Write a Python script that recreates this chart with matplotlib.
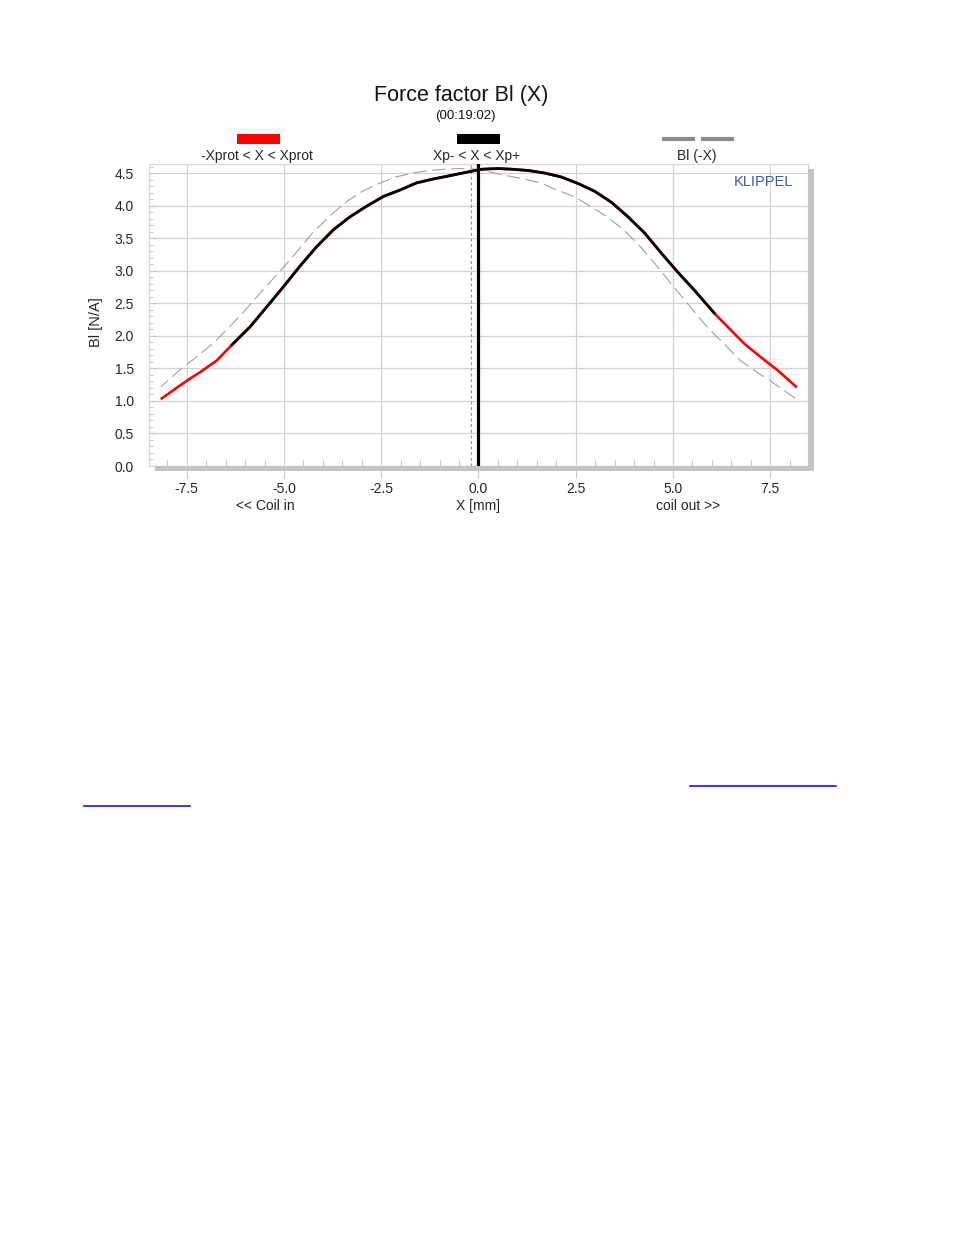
import numpy as np
import matplotlib
matplotlib.use("Agg")
import matplotlib.pyplot as plt
from matplotlib.patches import Rectangle
from matplotlib.lines import Line2D

plt.rcParams['font.family'] = ['Liberation Sans', 'DejaVu Sans']

x_mm = np.array([-8.14, -7.5, -7.16, -6.73, -6.34, -5.87, -5.45, -5.02, -4.59, -4.16,
                 -3.73, -3.30, -2.88, -2.45, -2.02, -1.59, -1.16, -0.74, -0.09, 0.09,
                 0.5, 0.85, 1.28, 1.71, 2.13, 2.56, 2.99, 3.42, 3.84, 4.27,
                 4.70, 5.12, 5.55, 6.06, 6.40, 6.83, 7.26, 7.69, 8.16])
bl = np.array([1.04, 1.31, 1.44, 1.62, 1.86, 2.14, 2.44, 2.75, 3.07, 3.37,
               3.63, 3.83, 3.99, 4.14, 4.24, 4.35, 4.41, 4.46, 4.54, 4.56,
               4.57, 4.56, 4.54, 4.50, 4.44, 4.34, 4.22, 4.05, 3.83, 3.58,
               3.27, 2.98, 2.70, 2.35, 2.14, 1.88, 1.67, 1.47, 1.22])

xp_minus, xp_plus = -6.34, 6.06
x_rest = 0.0      # rest position
x_offset = -0.18  # dotted marker

W, H = 954, 1235
fig = plt.figure(figsize=(W / 100, H / 100), dpi=100)

def fx(px):
    return px / W

def fy(py):
    return 1 - py / H

ax = fig.add_axes([fx(149), fy(466), fx(808) - fx(149), fy(164) - fy(466)])
ax.set_xlim(-8.47, 8.47)
ax.set_ylim(0, 4.64)

grid_c = '#d2d2d2'
txt_c = '#262626'
tick_fs = 10
ax.set_xticks([-7.5, -5.0, -2.5, 0.0, 2.5, 5.0, 7.5])
ax.set_xticks(np.arange(-8.0, 8.01, 0.5), minor=True)
ax.set_yticks(np.arange(0, 4.51, 0.5))
ax.set_yticks(np.arange(0, 4.61, 0.1), minor=True)
ax.grid(True, which='major', color=grid_c, lw=0.9, zorder=0)
ax.set_axisbelow(True)

ax.tick_params(axis='x', which='major', direction='out', length=8.5, width=0.8,
               color='#c8c8c8', labelsize=tick_fs, labelcolor=txt_c, pad=3)
ax.tick_params(axis='x', which='minor', direction='in', length=4.5, width=0.8,
               color='#c8c8c8', top=False)
ax.tick_params(axis='y', which='major', direction='in', length=4, width=0.8,
               color='#c8c8c8', labelsize=tick_fs, labelcolor=txt_c, pad=11)
ax.tick_params(axis='y', which='minor', direction='in', length=3, width=0.8,
               color='#c8c8c8')
ax.set_xticklabels(['-7.5', '-5.0', '-2.5', '0.0', '2.5', '5.0', '7.5'])
ax.set_yticklabels(['%.1f' % v for v in np.arange(0, 4.51, 0.5)])

for s in ax.spines.values():
    s.set_color('#d8d8d8')
    s.set_linewidth(0.9)

# curves
ax.plot(-x_mm, bl, color='#a0a0a0', lw=0.8, dashes=(12, 5), zorder=2)
ax.plot(x_mm, bl, color='#ff0000', lw=1.9, zorder=3)
m = (x_mm >= xp_minus) & (x_mm <= xp_plus)
ax.plot(x_mm[m], bl[m], color='black', lw=2.0, zorder=4)
ax.axvline(x_offset, color='#999999', lw=0.9, dashes=(2.5, 2), zorder=2)
ax.axvline(x_rest, color='black', lw=2.3, zorder=5)

ax.text(0.978, 0.965, 'KLIPPEL', transform=ax.transAxes, ha='right', va='top',
        fontsize=10.5, color='#3d5aa6')

# shadow frame
shadow = '#c4c4c4'
fig.add_artist(Rectangle((fx(808), fy(471)), fx(6), fy(169) - fy(471),
                         transform=fig.transFigure, color=shadow, lw=0, zorder=3))
fig.add_artist(Rectangle((fx(155), fy(471)), fx(814 - 155), fy(466) - fy(471),
                         transform=fig.transFigure, color=shadow, lw=0, zorder=3))

# titles
fig.text(fx(461), fy(96), 'Force factor Bl (X)', ha='center', va='center',
         fontsize=15.5, color='#111111')
fig.text(fx(465), fy(116.5), '(00:19:02)', ha='center', va='center',
         fontsize=9.5, color='#111111')

# legend
fig.add_artist(Rectangle((fx(237), fy(144)), fx(43), fy(134) - fy(144),
                         transform=fig.transFigure, color='#ff0000', lw=0))
fig.add_artist(Rectangle((fx(457), fy(144)), fx(43), fy(134) - fy(144),
                         transform=fig.transFigure, color='black', lw=0))
for a, b in [(662, 695), (701, 734)]:
    fig.add_artist(Line2D([fx(a), fx(b)], [fy(139), fy(139)],
                          transform=fig.transFigure, color='#8c8c8c', lw=3,
                          solid_capstyle='butt'))
lab_fs = 10
fig.text(fx(257), fy(156), '-Xprot < X < Xprot', ha='center', va='center',
         fontsize=lab_fs, color=txt_c)
fig.text(fx(477), fy(156), 'Xp- < X < Xp+', ha='center', va='center',
         fontsize=lab_fs, color=txt_c)
fig.text(fx(697), fy(156), 'Bl (-X)', ha='center', va='center',
         fontsize=lab_fs, color=txt_c)

# axis labels
fig.text(fx(96), fy(322), 'Bl [N/A]', ha='center', va='center', rotation=90,
         fontsize=10.5, color=txt_c)
fig.text(fx(265), fy(506), '<< Coil in', ha='center', va='center',
         fontsize=lab_fs, color=txt_c)
fig.text(fx(478), fy(506), 'X [mm]', ha='center', va='center',
         fontsize=lab_fs, color=txt_c)
fig.text(fx(688), fy(506), 'coil out >>', ha='center', va='center',
         fontsize=lab_fs, color=txt_c)

# link underlines below the chart
for a, b, yy in [(690, 836, 786), (84, 190, 806)]:
    fig.add_artist(Line2D([fx(a), fx(b)], [fy(yy), fy(yy)],
                          transform=fig.transFigure, color='#0000ff', lw=1.1))

fig.savefig('out.png', dpi=100)
